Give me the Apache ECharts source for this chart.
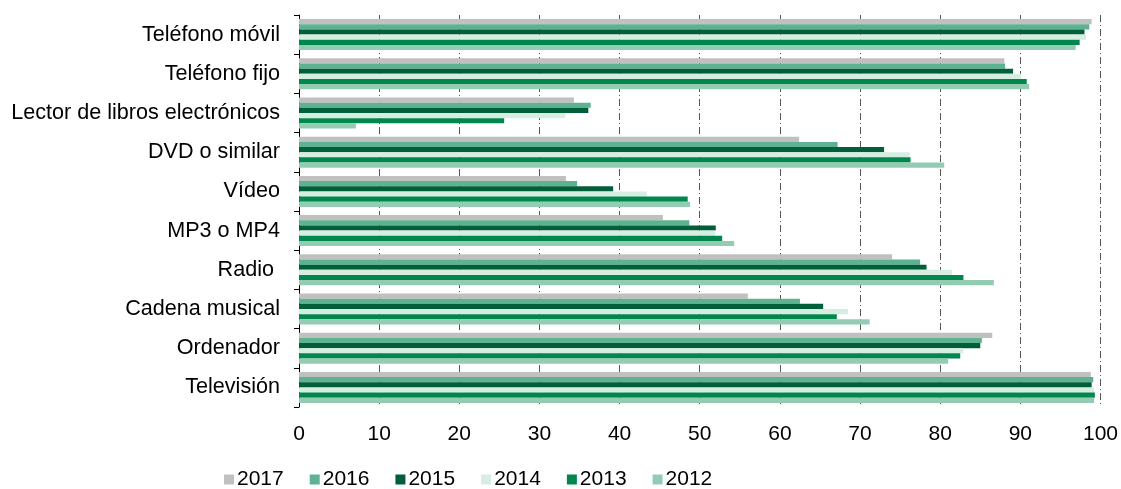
<!DOCTYPE html>
<html><head><meta charset="utf-8">
<script src="https://cdn.jsdelivr.net/npm/echarts@6/dist/echarts.min.js"></script>
<style>html,body{margin:0;padding:0;background:#fff}#c{width:1121px;height:489px}</style>
</head><body><div id="c"></div>
<script>
const categories = ["Teléfono móvil","Teléfono fijo","Lector de libros electrónicos","DVD o similar","Vídeo","MP3 o MP4","Radio ","Cadena musical","Ordenador","Televisión"];
const years = ["2017","2016","2015","2014","2013","2012"];
const v2017 = [98.9, 88.0, 34.3, 62.4, 33.3, 45.4, 74.0, 56.0, 86.5, 98.8];
const v2016 = [98.6, 88.1, 36.4, 67.2, 34.7, 48.7, 77.5, 62.5, 85.2, 99.1];
const v2015 = [98.0, 89.1, 36.1, 73.0, 39.2, 52.0, 78.3, 65.4, 85.0, 98.9];
const v2014 = [98.2, 90.1, 33.2, 76.2, 43.4, 51.9, 81.5, 68.5, 82.9, 99.2];
const v2013 = [97.4, 90.8, 25.6, 76.3, 48.5, 52.8, 82.9, 67.1, 82.5, 99.3];
const v2012 = [96.9, 91.1, 7.1, 80.5, 48.8, 54.3, 86.7, 71.2, 81.0, 99.2];
const seriesValues = [v2017, v2016, v2015, v2014, v2013, v2012];
const colors = ["#C0C0C0","#5CB291","#005F38","#D6EDE2","#00874E","#93CCB3"];
const FONT = 'Liberation Sans, Arial, sans-serif';

const chart = echarts.init(document.getElementById('c'));
chart.setOption({
  animation:false,
  textStyle:{fontFamily:FONT},
  legend:{
    data:years, top:464, left:219, itemWidth:10, itemHeight:10, itemGap:26,
    icon:'rect',
    textStyle:{fontSize:21,color:'#000',fontFamily:FONT, padding:[0,0,0,-2]}
  },
  grid:{left:299,right:20,top:15,bottom:82,containLabel:false},
  xAxis:{
    type:'value',min:0,max:100,interval:10,
    axisLine:{show:false},axisTick:{show:false},
    axisLabel:{fontSize:21,color:'#000',margin:17,fontFamily:FONT},
    splitLine:{show:true,lineStyle:{color:'#555',width:1,type:[7,3,1,3]}}
  },
  yAxis:{
    type:'category',data:categories,inverse:true,
    axisLine:{show:true,lineStyle:{color:'#000',width:1}},
    axisTick:{show:true,length:5,lineStyle:{color:'#000'}},
    axisLabel:{fontSize:21.6,color:'#000',margin:19,fontFamily:FONT}
  },
  series: years.map((y,i)=>({
    name:y,type:'bar',data:seriesValues[i],
    itemStyle:{color:colors[i]},
    barGap:'0%',barCategoryGap:'21%'
  }))
});
</script></body></html>
